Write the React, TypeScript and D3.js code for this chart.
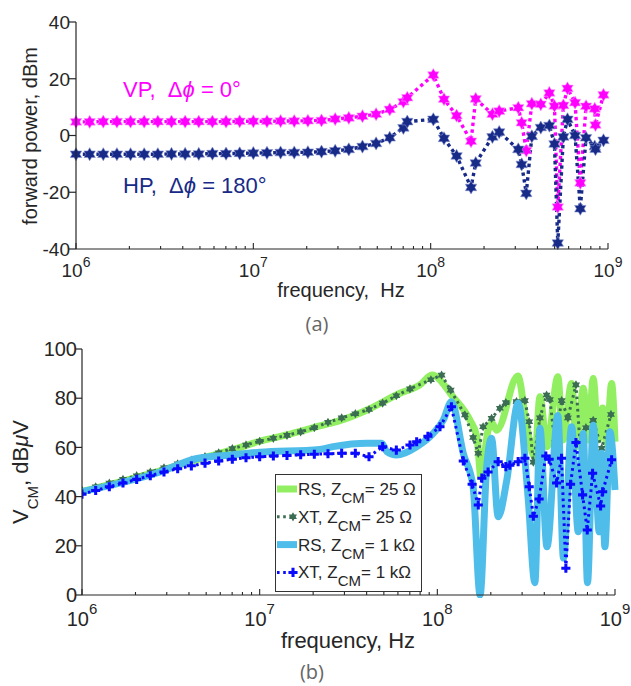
import React from 'react';
import * as d3 from 'd3';

// ---- panel (a): forward power, stars at each measured frequency (MHz)
const freqA = [1, 1.194, 1.425, 1.701, 2.031, 2.424, 2.894, 3.455, 4.125, 4.924, 5.878, 7.017, 8.377, 10, 11.94, 14.25, 17.01, 20.31, 24.24, 28.94, 34.55, 41.25, 49.24, 58.78, 70.17,
  73.8, 103.5, 118.9, 140, 168.9, 179.5, 223, 243.5, 312, 326, 346, 372, 418, 467, 499, 521, 560, 591, 652, 698, 752, 842, 850, 943];
const vpPower = [4.8, 4.8, 4.9, 4.9, 4.9, 4.9, 4.9, 4.9, 4.9, 4.9, 4.9, 4.9, 5.0, 5.0, 5.0, 5.1, 5.1, 5.2, 5.3, 5.8, 6.2, 6.8, 7.5, 9.2, 11.9,
  13.3, 21.3, 12.8, 7.0, -2.0, 12.9, 7.5, 8.6, 9.8, 4.5, -5.3, 11.2, 11.0, 15.0, 10.4, -25.2, 10.6, 16.6, 11.6, -16.7, 10.3, 9.4, 3.7, 14.3];
const hpPower = [-6.6, -6.6, -6.6, -6.6, -6.6, -6.6, -6.6, -6.5, -6.5, -6.5, -6.4, -6.4, -6.3, -6.2, -6.1, -6.0, -6.0, -5.9, -5.7, -5.4, -4.9, -3.9, -2.8, -0.8, 2.7,
  4.9, 5.7, -1.0, -7.2, -18.3, -9.7, -0.5, 1.2, -4.9, -10.2, -20.4, -0.3, 2.8, 3.5, -3.0, -37.9, -0.5, 5.7, 0.0, -25.8, -0.8, -3.9, -4.8, -1.7];
const powerTicks = [-40, -20, 0, 20, 40];

// ---- panel (b): common-mode voltage
const rs25Freq = [1, 1.636, 2.748, 4.437, 7, 10, 15, 21.8, 30, 40.2, 61.6, 79.8, 93.3, 122.4, 152.5, 167, 176, 193, 203, 216, 284, 319, 354, 378, 414, 477, 509, 570, 608, 663, 707, 754, 805, 852, 897, 957, 1000];
const rs25 = [42, 46, 50.5, 55, 59, 62.5, 65.5, 68.7, 71.5, 75.2, 82, 85.4, 89.4, 80.6, 71.1, 64.3, 48, 67, 69.8, 67, 89, 68, 56, 80.6, 60.3, 88.7, 63, 86, 60.3, 84, 63, 88, 63, 76, 61.7, 86, 62.3];
const rs1kFreq = [1, 2.748, 4.437, 7.08, 10, 21.8, 25.9, 40, 48.6, 51.9, 59, 76.5, 94.8, 108, 120, 140, 159, 174, 189, 202, 220, 246, 285, 324, 354, 378, 414, 477, 513, 570, 621, 663, 700, 754, 815, 841, 877, 936, 1000];
const rs1k = [42, 50, 55.5, 57, 58, 59.2, 60.3, 61.7, 61.7, 58.3, 56.9, 60.3, 65.7, 71.1, 78.6, 57.6, 44, 0, 50.8, 63.7, 31.8, 46.7, 78, 40, 5, 67.8, 19.6, 73, 15, 68.4, 25.7, 65.7, 5, 69, 25.7, 57.6, 19.6, 66.4, 42.7];
const xt25Freq = [1, 1.194, 1.425, 1.701, 2.031, 2.424, 2.894, 3.455, 4.125, 4.924, 5.878, 7.017, 8.377, 10, 11.94, 14.25, 17.01, 20.31, 24.24, 28.94, 34.55, 41.25, 49.24, 58.78, 70.17,
  92, 105.7, 118.9, 143, 159, 170, 181, 202, 225, 243, 279, 311, 329, 347, 378, 412, 430, 459, 501, 543, 603, 635, 686, 754, 841, 949];
const xt25 = [42.5, 44.0, 45.5, 47.0, 48.5, 50.0, 51.7, 53.3, 54.8, 56.3, 57.8, 59.5, 61.0, 62.5, 63.7, 64.9, 66.3, 68.0, 70.2, 72.0, 73.7, 75.4, 78.0, 81.0, 83.8,
  87.5, 89.4, 83.3, 73.2, 64, 57.6, 68.4, 71.8, 75.9, 78.2, 78.6, 79, 70.4, 54, 72, 81.3, 79.5, 62, 79, 72, 85.4, 62, 68, 71, 59.6, 73.4];
const xt1kFreq = [1, 1.194, 1.425, 1.701, 2.031, 2.424, 2.894, 3.455, 4.125, 4.924, 5.878, 7.017, 8.377, 10, 11.94, 14.25, 17.01, 20.31, 24.24, 28.94, 34.55, 41.25, 49.24, 58.78, 70.17,
  76.5, 88.5, 103.5, 120, 140, 157, 170, 178, 193, 220, 243, 256, 285, 311, 329, 347, 374, 408, 426, 469, 500, 529, 562, 603, 657, 698, 748, 830, 852, 957];
const xt1k = [41, 42.5, 44, 45.5, 47, 48.5, 50, 51.3, 52.5, 53.6, 54.5, 55.2, 55.8, 56.2, 56.5, 56.7, 57, 57.2, 57.4, 57.6, 57.6, 56.2, 60.3, 58.9, 61,
  62.3, 64.5, 68.4, 76.5, 54.5, 45, 36.6, 47.5, 50, 54.2, 52.2, 52.8, 54.2, 55.6, 44, 32, 39, 56.5, 55.2, 45.5, 55.6, 10.9, 45, 62, 40.7, 26.4, 49.5, 36.2, 42, 55];
const vcmTicks = [0, 20, 40, 60, 80, 100];
const decades = [1e6, 1e7, 1e8, 1e9];

const MAGENTA = '#ff00ff';
const NAVY = '#172a88';
const LGREEN = '#93ef62';
const DGREEN = '#3a6d52';
const LBLUE = '#4fbdea';
const BLUE = '#0a0aff';
const INK = '#262626';
const FONT = 'Liberation Sans, Arial, Helvetica, sans-serif';

function hexagram(r: number) {
  const pts = d3.range(12).map((i) => {
    const a = -Math.PI / 2 + (i * Math.PI) / 6;
    const rr = i % 2 === 0 ? r : r / Math.sqrt(3);
    return [Math.cos(a) * rr, Math.sin(a) * rr];
  });
  return 'M' + pts.map((p) => p[0].toFixed(2) + ',' + p[1].toFixed(2)).join('L') + 'Z';
}

const zip = (f: number[], v: number[]) => f.map((d, i) => [d * 1e6, v[i]] as [number, number]);

const App = () => {
  // panel a scales
  const xA = d3.scaleLog().domain([1e6, 1e9]).range([76, 608]);
  const yA = d3.scaleLinear().domain([-40, 40]).range([249, 22]);
  // panel b scales
  const xB = d3.scaleLog().domain([1e6, 1e9]).range([82, 615]);
  const yB = d3.scaleLinear().domain([0, 100]).range([595, 349]);

  const lineA = d3.line<[number, number]>().x((d) => xA(d[0])).y((d) => yA(d[1]));
  const lineB = d3.line<[number, number]>().x((d) => xB(d[0])).y((d) => yB(d[1]));
  const smoothB = d3.line<[number, number]>().x((d) => xB(d[0])).y((d) => yB(d[1])).curve(d3.curveMonotoneX);

  const vp = zip(freqA, vpPower);
  const hp = zip(freqA, hpPower);
  const g25 = zip(rs25Freq, rs25);
  const b1k = zip(rs1kFreq, rs1k);
  const x25 = zip(xt25Freq, xt25);
  const x1k = zip(xt1kFreq, xt1k);

  const star = hexagram(6.6);
  const smallStar = hexagram(4.6);
  const cross = d3.symbol(d3.symbolCross, 46)() as string;

  const minorA = xA.ticks();
  const minorB = xB.ticks();
  const isMajor = (t: number) => Math.abs(Math.log10(t) - Math.round(Math.log10(t))) < 1e-6;

  const legend = [
    { kind: 'thick', color: LGREEN, label: 'RS, Z', val: '= 25 ', unit: 'Ω' },
    { kind: 'dots', color: DGREEN, label: 'XT, Z', val: '= 25 ', unit: 'Ω' },
    { kind: 'thick', color: LBLUE, label: 'RS, Z', val: '= 1 k', unit: 'Ω' },
    { kind: 'dots', color: BLUE, label: 'XT, Z', val: '= 1 k', unit: 'Ω' },
  ];

  return (
    <svg width={631} height={686} style={{ position: 'absolute', left: 0, top: 0, background: '#fff' }} fontFamily={FONT}>
      <rect width={631} height={686} fill="#fff" />

      {/* ================= panel (a) ================= */}
      <g>
        <path d={lineA(vp) as string} fill="none" stroke={MAGENTA} strokeWidth={3.4} strokeDasharray="3.4 3.4" />
        <path d={lineA(hp) as string} fill="none" stroke={NAVY} strokeWidth={3.4} strokeDasharray="3.4 3.4" />
        {vp.map((d, i) => (
          <path key={'vp' + i} d={star} transform={`translate(${xA(d[0])},${yA(d[1])})`} fill={MAGENTA} stroke="#ff9cff" strokeWidth={0.6} />
        ))}
        {hp.map((d, i) => (
          <path key={'hp' + i} d={star} transform={`translate(${xA(d[0])},${yA(d[1])})`} fill={NAVY} stroke="#8a96d0" strokeWidth={0.6} />
        ))}

        {/* axes */}
        <line x1={76} x2={76} y1={22} y2={249} stroke={INK} strokeWidth={1.2} />
        <line x1={76} x2={608} y1={249} y2={249} stroke={INK} strokeWidth={1.2} />
        {powerTicks.map((t) => (
          <g key={'ya' + t}>
            <line x1={69} x2={76} y1={yA(t)} y2={yA(t)} stroke={INK} strokeWidth={1.2} />
            <text x={70} y={yA(t)} dy="0.36em" textAnchor="end" fontSize={19} fill={INK}>{t}</text>
          </g>
        ))}
        {minorA.map((t, i) => (
          <line key={'xa' + i} x1={xA(t)} x2={xA(t)} y1={249} y2={isMajor(t) ? 243 : 246} stroke={INK} strokeWidth={1.1} />
        ))}
        {decades.map((t) => (
          <text key={'xal' + t} x={xA(t)} y={277} textAnchor="middle" fontSize={19} fill={INK}>
            10<tspan dy={-10} fontSize={14}>{Math.round(Math.log10(t))}</tspan>
          </text>
        ))}
        <text x={341} y={297} textAnchor="middle" fontSize={20} fill={INK} style={{ whiteSpace: 'pre' }}>frequency,  Hz</text>
        <text transform="translate(37,136) rotate(-90)" textAnchor="middle" fontSize={20} fill={INK}>forward power, dBm</text>

        <text x={123} y={97} fontSize={22} fill={MAGENTA} style={{ whiteSpace: 'pre' }}>
          VP,  Δ<tspan fontStyle="italic">ϕ</tspan> = 0°
        </text>
        <text x={123} y={193} fontSize={22} fill={NAVY} style={{ whiteSpace: 'pre' }}>
          HP,  Δ<tspan fontStyle="italic">ϕ</tspan> = 180°
        </text>
        <text x={317} y={331} textAnchor="middle" fontSize={20} fill="#666" fontFamily="Open Sans, Noto Sans, sans-serif">(a)</text>
      </g>

      {/* ================= panel (b) ================= */}
      <defs>
        <clipPath id="clipB">
          <rect x={82} y={340} width={540} height={258} />
        </clipPath>
      </defs>
      <g clipPath="url(#clipB)">
        <path d={smoothB(g25) as string} fill="none" stroke={LGREEN} strokeWidth={7} strokeLinejoin="round" />
        <path d={lineB(x25) as string} fill="none" stroke={DGREEN} strokeWidth={3} strokeDasharray="2.6 3.6" />
        {x25.map((d, i) => (
          <path key={'x25' + i} d={smallStar} transform={`translate(${xB(d[0])},${yB(d[1])})`} fill={DGREEN} />
        ))}
        <path d={smoothB(b1k) as string} fill="none" stroke={LBLUE} strokeWidth={7} strokeLinejoin="round" />
        <path d={lineB(x1k) as string} fill="none" stroke={BLUE} strokeWidth={3} strokeDasharray="2.6 3.6" />
        {x1k.map((d, i) => (
          <path key={'x1k' + i} d={cross} transform={`translate(${xB(d[0])},${yB(d[1])})`} fill={BLUE} />
        ))}
      </g>

      {/* legend */}
      <rect x={275.5} y={474.5} width={146} height={117} fill="#fff" stroke="#333" strokeWidth={1} />
      {legend.map((l, i) => {
        const by = 495 + i * 27.8;
        const ly = by - 6;
        return (
          <g key={'lg' + i}>
            {l.kind === 'thick' ? (
              <line x1={277} x2={297} y1={ly} y2={ly} stroke={l.color} strokeWidth={7} />
            ) : (
              <g>
                <line x1={277} x2={293} y1={ly} y2={ly} stroke={l.color} strokeWidth={3} strokeDasharray="2.6 3.6" />
                <path d={i === 1 ? smallStar : cross} transform={`translate(293,${ly})`} fill={l.color} />
              </g>
            )}
            <text x={298} y={by} fontSize={17} fill={INK} style={{ whiteSpace: 'pre' }}>
              {l.label}
              <tspan dy={8} fontSize={15}>CM</tspan>
              <tspan dy={-8}>{l.val}</tspan>
              <tspan>{l.unit}</tspan>
            </text>
          </g>
        );
      })}

      {/* axes b */}
      <line x1={82} x2={82} y1={349} y2={595} stroke={INK} strokeWidth={1.2} />
      <line x1={82} x2={615} y1={595} y2={595} stroke={INK} strokeWidth={1.2} />
      {vcmTicks.map((t) => (
        <g key={'yb' + t}>
          <line x1={75} x2={82} y1={yB(t)} y2={yB(t)} stroke={INK} strokeWidth={1.2} />
          <text x={77} y={yB(t)} dy="0.36em" textAnchor="end" fontSize={20} fill={INK}>{t}</text>
        </g>
      ))}
      {minorB.map((t, i) => (
        <line key={'xb' + i} x1={xB(t)} x2={xB(t)} y1={595} y2={isMajor(t) ? 589 : 592} stroke={INK} strokeWidth={1.1} />
      ))}
      {decades.map((t) => (
        <text key={'xbl' + t} x={xB(t)} y={626} textAnchor="middle" fontSize={20} fill={INK}>
          10<tspan dy={-12} fontSize={15}>{Math.round(Math.log10(t))}</tspan>
        </text>
      ))}
      <text x={348} y={648} textAnchor="middle" fontSize={22} fill={INK}>frequency, Hz</text>
      <text transform="translate(28,472) rotate(-90)" textAnchor="middle" fontSize={22} fill={INK}>
        V<tspan dy={10} fontSize={15}>CM</tspan>
        <tspan dy={-10}>, dB</tspan>
        <tspan fontStyle="italic">μ</tspan>V
      </text>
      <text x={312} y={679} textAnchor="middle" fontSize={20} fill="#666" fontFamily="Open Sans, Noto Sans, sans-serif">(b)</text>
    </svg>
  );
};

export default App;
